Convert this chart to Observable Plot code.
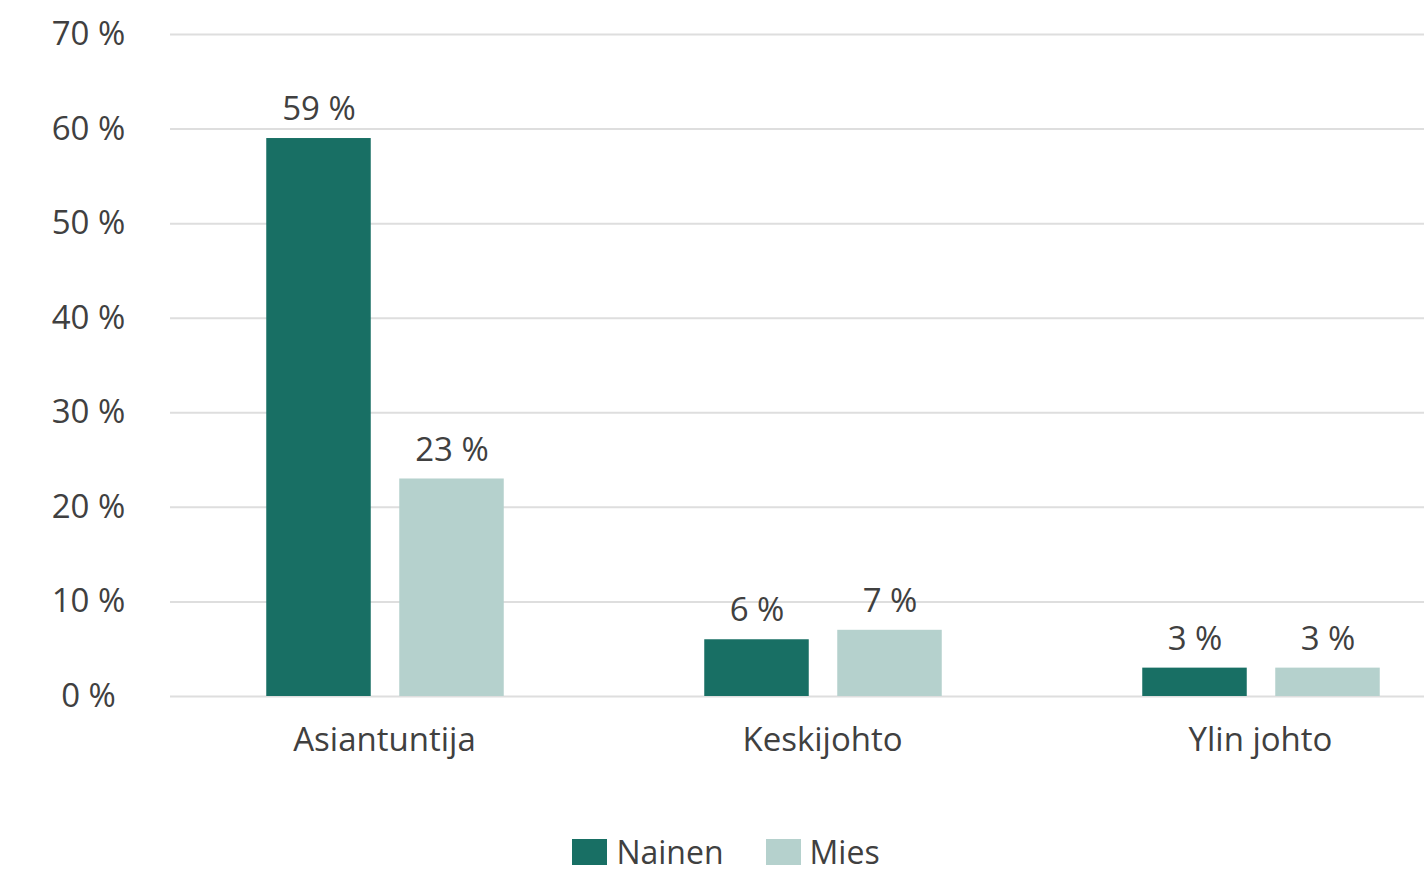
<!DOCTYPE html>
<html>
<head>
<meta charset="utf-8">
<script src="https://cdn.jsdelivr.net/npm/d3@7"></script>
<script src="https://cdn.jsdelivr.net/npm/@observablehq/plot@0.6"></script>
<style>
  body { margin: 0; background: #fff; font-family: "Open Sans", Lato, sans-serif; color: #404040; position: relative; width: 1424px; height: 872px; }
  #legend { position: absolute; left: 0; top: 832px; width: 1424px; height: 40px; display: flex; justify-content: center; align-items: center; gap: 42px; font-size: 32px; line-height: 38px; padding-left: 28px; box-sizing: border-box; }
  .item { display: flex; align-items: center; gap: 9px; }
  .sw { width: 35px; height: 26px; display: inline-block; }
</style>
</head>
<body>
<div id="chart"></div>
<div id="legend"></div>
<script>
const categories = ["Asiantuntija", "Keskijohto", "Ylin johto"];
const series = ["Nainen", "Mies"];
const nainen = [59, 6, 3];
const mies = [23, 7, 3];
const yTicks = [0, 10, 20, 30, 40, 50, 60, 70];
const colors = ["#186f64", "#b5d1cd"];

const data = [];
categories.forEach((c, i) => {
  data.push({category: c, series: "Nainen", value: nainen[i]});
  data.push({category: c, series: "Mies", value: mies[i]});
});

const barW = 105, gap = 28;
const offset = (barW + gap) / 2;
const bandStep = 438.5;
const bandInset = (bandStep - barW) / 2;
const FS = 33;
const fmt = d => `${d} %`;

const chart = Plot.plot({
  width: 1424,
  height: 790,
  marginLeft: 170,
  marginRight: 0,
  marginTop: 34,
  marginBottom: 94,
  style: {fontFamily: "'Open Sans', Lato, sans-serif", fontSize: FS + "px", color: "#404040", background: "#fff"},
  x: {domain: categories, range: [164.75, 164.75 + 3 * bandStep], padding: 0, label: null},
  y: {domain: [0, 70], label: null},
  marks: [
    Plot.ruleY(yTicks, {stroke: "#dedede", strokeWidth: 2}),
    Plot.barY(data.filter(d => d.series === "Nainen"), {x: "category", y: "value", fill: colors[0], insetLeft: bandInset, insetRight: bandInset, dx: -offset}),
    Plot.barY(data.filter(d => d.series === "Mies"), {x: "category", y: "value", fill: colors[1], insetLeft: bandInset, insetRight: bandInset, dx: offset}),
    Plot.text(data.filter(d => d.series === "Nainen"), {x: "category", y: "value", text: d => fmt(d.value), dx: -offset, dy: -29, fill: "#404040", fontSize: FS}),
    Plot.text(data.filter(d => d.series === "Mies"), {x: "category", y: "value", text: d => fmt(d.value), dx: offset, dy: -29, fill: "#404040", fontSize: FS}),
    Plot.axisY(yTicks, {tickSize: 0, tickPadding: 82, textAnchor: "middle", tickFormat: fmt, fill: "#404040", fontSize: FS}),
    Plot.axisX({tickSize: 0, tickPadding: 31, fill: "#404040", fontSize: FS, dx: -1})
  ]
});
document.getElementById("chart").appendChild(chart);

const legend = document.getElementById("legend");
series.forEach((s, i) => {
  const item = document.createElement("div");
  item.className = "item";
  const sw = document.createElement("span");
  sw.className = "sw";
  sw.style.background = colors[i];
  const t = document.createElement("span");
  t.textContent = s;
  item.appendChild(sw);
  item.appendChild(t);
  legend.appendChild(item);
});
</script>
</body>
</html>
